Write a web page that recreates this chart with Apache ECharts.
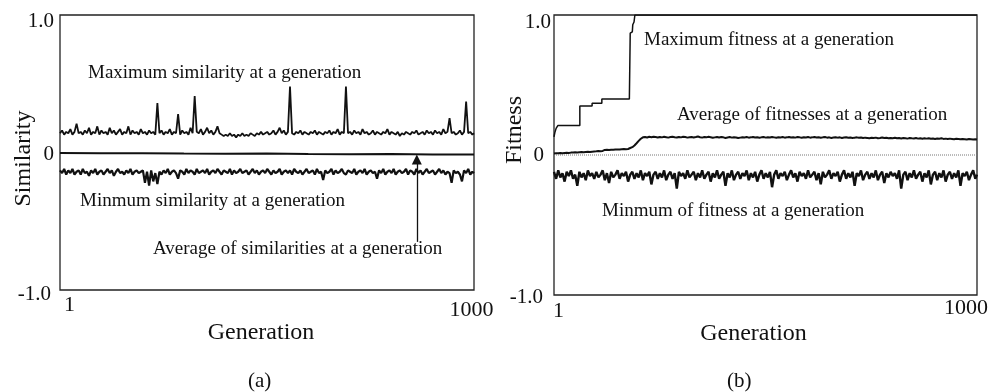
<!DOCTYPE html>
<html>
<head>
<meta charset="utf-8">
<script src="https://cdn.jsdelivr.net/npm/echarts@6/dist/echarts.min.js"></script>
<style>html,body{margin:0;padding:0;background:#fff}#c{width:993px;height:392px}</style>
</head>
<body>
<div id="c"></div>
<script>
// ---- data ----
const yTicks = [-1, 0, 1];
const xTickLabels = [1, 1000];

// generations sampled every 5 (1, 6, ..., 996) plus 1000
const gens = [];
for (let g = 1; g <= 996; g += 5) gens.push(g);
gens.push(1000);

const maxSim = [
0.14,0.16,0.13,0.15,0.14,0.17,0.13,0.15,0.21,0.14,
0.15,0.13,0.16,0.14,0.18,0.13,0.15,0.14,0.19,0.13,
0.16,0.14,0.15,0.13,0.18,0.14,0.16,0.13,0.15,0.17,
0.13,0.15,0.14,0.19,0.13,0.16,0.14,0.15,0.13,0.17,
0.14,0.15,0.13,0.16,0.14,0.15,0.13,0.36,0.14,0.16,
0.13,0.15,0.14,0.17,0.13,0.15,0.14,0.28,0.13,0.16,
0.14,0.15,0.13,0.18,0.14,0.41,0.15,0.14,0.17,0.13,
0.15,0.18,0.14,0.16,0.13,0.15,0.19,0.14,0.13,0.12,
0.13,0.12,0.14,0.12,0.13,0.11,0.13,0.12,0.14,0.12,
0.13,0.12,0.14,0.13,0.12,0.14,0.13,0.15,0.13,0.14,
0.15,0.13,0.14,0.16,0.13,0.15,0.18,0.14,0.16,0.13,
0.15,0.48,0.14,0.13,0.15,0.14,0.16,0.13,0.15,0.14,
0.13,0.15,0.14,0.16,0.13,0.15,0.14,0.13,0.15,0.14,
0.16,0.13,0.15,0.14,0.17,0.13,0.15,0.14,0.48,0.14,
0.15,0.13,0.16,0.14,0.15,0.13,0.17,0.14,0.15,0.13,
0.14,0.16,0.13,0.15,0.14,0.13,0.15,0.14,0.17,0.13,
0.15,0.14,0.13,0.15,0.12,0.14,0.13,0.15,0.14,0.13,
0.15,0.14,0.16,0.13,0.14,0.15,0.13,0.16,0.14,0.15,
0.13,0.16,0.14,0.15,0.13,0.17,0.14,0.15,0.25,0.14,
0.15,0.13,0.14,0.16,0.13,0.15,0.37,0.14,0.15,0.13,
0.14];

const minSim = [
-0.13,-0.15,-0.12,-0.16,-0.13,-0.15,-0.12,-0.16,-0.14,-0.13,
-0.16,-0.12,-0.15,-0.14,-0.17,-0.13,-0.15,-0.12,-0.16,-0.14,
-0.13,-0.16,-0.14,-0.12,-0.15,-0.13,-0.17,-0.14,-0.12,-0.15,
-0.14,-0.16,-0.13,-0.15,-0.12,-0.16,-0.14,-0.13,-0.15,-0.14,
-0.13,-0.22,-0.14,-0.24,-0.13,-0.21,-0.15,-0.23,-0.14,-0.16,
-0.13,-0.15,-0.12,-0.16,-0.14,-0.13,-0.15,-0.19,-0.13,-0.14,
-0.16,-0.12,-0.15,-0.13,-0.14,-0.16,-0.12,-0.15,-0.14,-0.13,
-0.15,-0.12,-0.16,-0.14,-0.13,-0.15,-0.12,-0.14,-0.16,-0.13,
-0.14,-0.15,-0.12,-0.16,-0.13,-0.15,-0.14,-0.12,-0.15,-0.14,
-0.13,-0.16,-0.14,-0.12,-0.15,-0.13,-0.16,-0.14,-0.13,-0.15,
-0.12,-0.14,-0.16,-0.13,-0.15,-0.14,-0.12,-0.16,-0.14,-0.13,
-0.15,-0.13,-0.16,-0.12,-0.14,-0.15,-0.13,-0.16,-0.14,-0.12,
-0.15,-0.14,-0.13,-0.16,-0.12,-0.15,-0.14,-0.20,-0.13,-0.15,
-0.14,-0.12,-0.16,-0.13,-0.15,-0.14,-0.12,-0.15,-0.16,-0.13,
-0.14,-0.15,-0.12,-0.16,-0.14,-0.13,-0.15,-0.12,-0.16,-0.14,
-0.13,-0.15,-0.14,-0.19,-0.13,-0.15,-0.12,-0.16,-0.14,-0.13,
-0.15,-0.12,-0.16,-0.14,-0.13,-0.15,-0.14,-0.12,-0.16,-0.13,
-0.14,-0.16,-0.12,-0.15,-0.13,-0.16,-0.14,-0.12,-0.15,-0.14,
-0.13,-0.16,-0.14,-0.12,-0.15,-0.13,-0.16,-0.14,-0.15,-0.22,
-0.13,-0.15,-0.14,-0.16,-0.21,-0.13,-0.15,-0.12,-0.16,-0.14,
-0.15];

const avgSimGen = [1, 100, 200, 300, 400, 500, 600, 700, 800, 900, 1000];
const avgSim = [-0.003, -0.006, -0.005, -0.008, -0.009, -0.008, -0.011, -0.012, -0.011, -0.014, -0.015];

// Maximum fitness (step curve): [generation, fitness]
const maxFit = [[1,0.13],[3,0.16],[6,0.19],[10,0.21],[62,0.21],[62,0.35],[91,0.35],[91,0.37],
  [114,0.37],[114,0.40],[179,0.40],[181,0.87],[186,0.88],[187,0.93],[190,0.95],[192,1.0],[1000,1.0]];

const avgFit = [
0.010,0.012,0.012,0.014,0.013,0.015,0.016,0.015,0.017,0.018,
0.019,0.018,0.020,0.021,0.020,0.022,0.023,0.022,0.024,0.025,
0.026,0.028,0.027,0.029,0.036,0.037,0.036,0.038,0.037,0.039,
0.040,0.039,0.041,0.042,0.041,0.043,0.050,0.056,0.068,0.084,
0.101,0.116,0.126,0.128,0.125,0.130,0.127,0.131,0.128,0.125,
0.129,0.126,0.130,0.127,0.124,0.128,0.131,0.127,0.125,0.129,
0.126,0.130,0.128,0.124,0.127,0.129,0.125,0.128,0.132,0.127,
0.124,0.128,0.126,0.130,0.127,0.123,0.126,0.129,0.125,0.128,
0.126,0.122,0.125,0.128,0.124,0.127,0.125,0.121,0.124,0.127,
0.125,0.128,0.124,0.126,0.129,0.125,0.127,0.123,0.126,0.128,
0.124,0.127,0.125,0.129,0.126,0.123,0.127,0.125,0.128,0.124,
0.126,0.129,0.125,0.127,0.124,0.128,0.126,0.123,0.127,0.125,
0.128,0.124,0.126,0.129,0.125,0.127,0.123,0.126,0.128,0.124,
0.126,0.122,0.125,0.127,0.124,0.126,0.122,0.125,0.127,0.123,
0.125,0.121,0.124,0.126,0.123,0.125,0.121,0.124,0.122,0.120,
0.123,0.121,0.124,0.120,0.122,0.125,0.121,0.123,0.119,0.122,
0.120,0.123,0.119,0.121,0.118,0.122,0.120,0.117,0.121,0.119,
0.118,0.121,0.117,0.120,0.116,0.119,0.117,0.120,0.116,0.118,
0.115,0.118,0.116,0.119,0.115,0.117,0.114,0.117,0.115,0.113,
0.116,0.114,0.112,0.115,0.113,0.111,0.114,0.112,0.110,0.113,
0.111];

const minFit = [
-0.12,-0.17,-0.11,-0.16,-0.13,-0.19,-0.12,-0.15,-0.11,-0.17,
-0.14,-0.22,-0.12,-0.16,-0.13,-0.18,-0.11,-0.15,-0.13,-0.17,
-0.12,-0.16,-0.14,-0.11,-0.18,-0.13,-0.20,-0.12,-0.16,-0.14,
-0.11,-0.17,-0.13,-0.15,-0.12,-0.19,-0.14,-0.12,-0.17,-0.13,
-0.16,-0.11,-0.18,-0.13,-0.15,-0.12,-0.21,-0.14,-0.12,-0.17,
-0.13,-0.16,-0.11,-0.18,-0.14,-0.12,-0.17,-0.13,-0.24,-0.12,
-0.15,-0.13,-0.17,-0.11,-0.16,-0.14,-0.12,-0.18,-0.13,-0.16,
-0.11,-0.17,-0.14,-0.12,-0.19,-0.13,-0.16,-0.11,-0.17,-0.14,
-0.12,-0.22,-0.13,-0.16,-0.11,-0.18,-0.14,-0.12,-0.17,-0.13,
-0.15,-0.11,-0.18,-0.13,-0.16,-0.12,-0.19,-0.14,-0.11,-0.17,
-0.13,-0.16,-0.12,-0.23,-0.14,-0.11,-0.17,-0.13,-0.15,-0.12,
-0.18,-0.14,-0.11,-0.16,-0.13,-0.19,-0.12,-0.15,-0.13,-0.17,
-0.11,-0.16,-0.14,-0.12,-0.18,-0.13,-0.21,-0.12,-0.16,-0.14,
-0.11,-0.17,-0.13,-0.15,-0.12,-0.19,-0.14,-0.11,-0.17,-0.13,
-0.16,-0.12,-0.22,-0.13,-0.15,-0.11,-0.18,-0.14,-0.12,-0.17,
-0.13,-0.16,-0.11,-0.18,-0.14,-0.12,-0.20,-0.13,-0.16,-0.12,
-0.15,-0.13,-0.17,-0.11,-0.24,-0.14,-0.12,-0.18,-0.13,-0.16,
-0.11,-0.17,-0.14,-0.12,-0.19,-0.13,-0.16,-0.11,-0.21,-0.14,
-0.12,-0.18,-0.13,-0.16,-0.11,-0.19,-0.14,-0.12,-0.17,-0.13,
-0.16,-0.11,-0.22,-0.13,-0.15,-0.12,-0.18,-0.14,-0.11,-0.17,
-0.14];

const zeroRefGen = [1, 1000];
const zeroRef = [0, 0];

// ---- chart ----
const FONT = '"Liberation Serif", "DejaVu Serif", serif';
const INK = '#111';
const zip = (xs, ys) => xs.map((x, i) => [x, ys[i]]);

function yAxisFor(gridIndex, name, rich, margin, namePad, nameGap) {
  return {
    type: 'value', gridIndex, min: -1, max: 1, interval: 1,
    name, nameLocation: 'middle', nameGap, nameMoveOverlap: false,
    nameTextStyle: { fontFamily: FONT, fontSize: 24, color: INK, padding: namePad },
    axisLine: { show: false }, axisTick: { show: false }, splitLine: { show: false },
    axisLabel: {
      margin, color: INK, fontFamily: FONT, fontSize: 21,
      formatter: v => v === 1 ? '{t|1.0}' : (v === 0 ? '{m|0}' : '{b|-1.0}'),
      rich
    }
  };
}
function richOf(pads) {
  const o = {};
  for (const k in pads) o[k] = { fontFamily: FONT, fontSize: 21, color: INK, padding: pads[k] };
  return o;
}
function richX(pads) {
  const o = {};
  for (const k in pads) o[k] = { fontFamily: FONT, fontSize: 22, color: INK, padding: pads[k] };
  return o;
}
function xAxisFor(gridIndex, rich, margin, namePad, nameGap) {
  return {
    type: 'value', gridIndex, min: 1, max: 1000,
    name: 'Generation', nameLocation: 'middle', nameGap, nameMoveOverlap: false,
    nameTextStyle: { fontFamily: FONT, fontSize: 24, color: INK, padding: namePad },
    axisLine: { show: false }, axisTick: { show: false }, splitLine: { show: false },
    axisLabel: {
      customValues: xTickLabels, margin, color: INK, fontFamily: FONT, fontSize: 22,
      formatter: v => v === 1 ? '{s|1}' : '{e|1000}',
      rich
    }
  };
}

const lineBase = { type: 'line', showSymbol: false, symbol: 'none', animation: false, silent: true };
const noisy = w => ({ color: INK, width: w, join: 'bevel' });

const option = {
  animation: false,
  backgroundColor: '#fff',
  grid: [
    { left: 60, top: 15, width: 414, height: 275, show: true, borderColor: '#222', borderWidth: 1.3, outerBoundsMode: 'none' },
    { left: 554, top: 15, width: 423, height: 280, show: true, borderColor: '#222', borderWidth: 1.3, outerBoundsMode: 'none' }
  ],
  xAxis: [
    xAxisFor(0, richX({ s: [0, 0, 0, 19], e: [5, 5, 0, 0] }), 4, [0, 12, 0, 0], 31),
    xAxisFor(1, richX({ s: [3, 0, 0, 9], e: [0, 22, 0, 0] }), 2, [0, 24, 0, 0], 27)
  ],
  yAxis: [
    yAxisFor(0, 'Similarity', richOf({ t: [13, 0, 0, 0], m: [4, 0, 0, 0], b: [9, 3, 0, 0] }), 6, [0, 12, 0, 0], 24),
    yAxisFor(1, 'Fitness', richOf({ t: [15, 0, 0, 0], m: [0, 7, 0, 0], b: [5, 8, 0, 0] }), 3, [0, 0, 0, 50], 27)
  ],
  series: [
    Object.assign({}, lineBase, { name: 'Maximum similarity', xAxisIndex: 0, yAxisIndex: 0,
      data: zip(gens, maxSim), lineStyle: noisy(1.8) }),
    Object.assign({}, lineBase, { name: 'Minimum similarity', xAxisIndex: 0, yAxisIndex: 0,
      data: zip(gens, minSim), lineStyle: noisy(2.2) }),
    Object.assign({}, lineBase, { name: 'Average similarity', xAxisIndex: 0, yAxisIndex: 0,
      data: zip(avgSimGen, avgSim), lineStyle: { color: INK, width: 2 },
      markLine: {
        silent: true, animation: false, symbol: ['none', 'triangle'], symbolSize: [10, 10],
        label: { show: false }, lineStyle: { color: INK, width: 1.3, type: 'solid' },
        data: [[{ coord: [862, -0.65] }, { coord: [862, -0.05] }]]
      } }),
    Object.assign({}, lineBase, { name: 'zero', xAxisIndex: 1, yAxisIndex: 1,
      data: zip(zeroRefGen, zeroRef), lineStyle: { color: '#777', width: 1, type: 'dotted' } }),
    Object.assign({}, lineBase, { name: 'Maximum fitness', xAxisIndex: 1, yAxisIndex: 1,
      data: maxFit, lineStyle: { color: INK, width: 1.5 } }),
    Object.assign({}, lineBase, { name: 'Average fitness', xAxisIndex: 1, yAxisIndex: 1,
      data: zip(gens, avgFit), lineStyle: noisy(2) }),
    Object.assign({}, lineBase, { name: 'Minimum fitness', xAxisIndex: 1, yAxisIndex: 1,
      data: zip(gens, minFit), lineStyle: noisy(2.4) })
  ],
  graphic: [
    { type: 'text', left: 88, top: 64, style: { text: 'Maximum similarity at a generation', font: '19px ' + FONT, fill: INK } },
    { type: 'text', left: 80, top: 192, style: { text: 'Minmum similarity at a generation', font: '19px ' + FONT, fill: INK } },
    { type: 'text', left: 153, top: 240, style: { text: 'Average of similarities at a generation', font: '19px ' + FONT, fill: INK } },
    { type: 'text', left: 644, top: 31, style: { text: 'Maximum fitness at a generation', font: '19px ' + FONT, fill: INK } },
    { type: 'text', left: 677, top: 106, style: { text: 'Average of fitnesses at a generation', font: '19px ' + FONT, fill: INK } },
    { type: 'text', left: 602, top: 202, style: { text: 'Minmum of fitness at a generation', font: '19px ' + FONT, fill: INK } },
    { type: 'text', left: 248, top: 371, style: { text: '(a)', font: '21px ' + FONT, fill: INK } },
    { type: 'text', left: 727, top: 371, style: { text: '(b)', font: '21px ' + FONT, fill: INK } }
  ]
};

const chart = echarts.init(document.getElementById('c'), null, { renderer: 'canvas' });
chart.setOption(option);
</script>
</body>
</html>
